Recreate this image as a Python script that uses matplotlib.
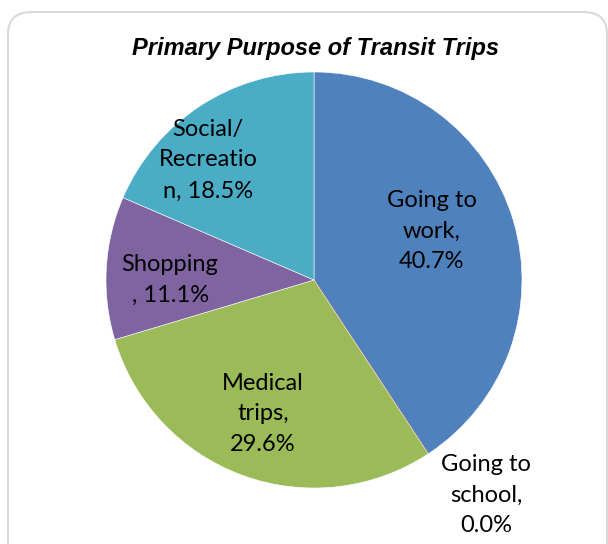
import matplotlib.pyplot as plt
from matplotlib.patches import FancyBboxPatch

purposes = ['Going to work', 'Going to school', 'Medical trips', 'Shopping', 'Social/Recreation']
shares = [40.7, 0.0, 29.6, 11.1, 18.5]
label_text = ['Going to\nwork,\n40.7%', 'Going to\nschool,\n0.0%', 'Medical\ntrips,\n29.6%',
              'Shopping\n, 11.1%', 'Social/\nRecreatio\nn, 18.5%']
colors = ['#4F81BD', '#C0504D', '#9BBB59', '#8064A2', '#4BACC6']

# label anchors in pie-radius units
label_x = [0.567, 0.827, -0.245, -0.692, -0.510]
label_y = [0.236, -1.034, -0.644, 0.0, 0.577]

fig = plt.figure(figsize=(6.08, 5.44), dpi=100)

# chart area frame
frame = FancyBboxPatch((8/608, -0.1), 599/608, 1 - 12/544 + 0.1,
                       boxstyle='round,pad=0,rounding_size=0.04',
                       transform=fig.transFigure, facecolor='none',
                       edgecolor='#D9D9D9', linewidth=1.5, zorder=-1)
fig.patches.append(frame)

ax = fig.add_axes([106/608, 56/544, 416/608, 416/544])
wedges, _ = ax.pie(shares, colors=colors, startangle=90, counterclock=False,
                   wedgeprops=dict(edgecolor='white', linewidth=0.4))
wedges[1].set_edgecolor('#C0504D')
wedges[1].set_linewidth(0.8)
ax.set_aspect('equal')
ax.set_xlim(-1, 1)
ax.set_ylim(-1, 1)
ax.axis('off')

for txt, x, y in zip(label_text, label_x, label_y):
    ax.text(x, y, txt, ha='center', va='center', fontsize=17, family='Lato',
            linespacing=1.58, color='black', clip_on=False)

fig.text(315/608, 1 - 48/544, 'Primary Purpose of Transit Trips', ha='center', va='center',
         fontsize=17, fontweight='bold', fontstyle='italic', family='Liberation Sans')

fig.savefig('out.png', dpi=100)
